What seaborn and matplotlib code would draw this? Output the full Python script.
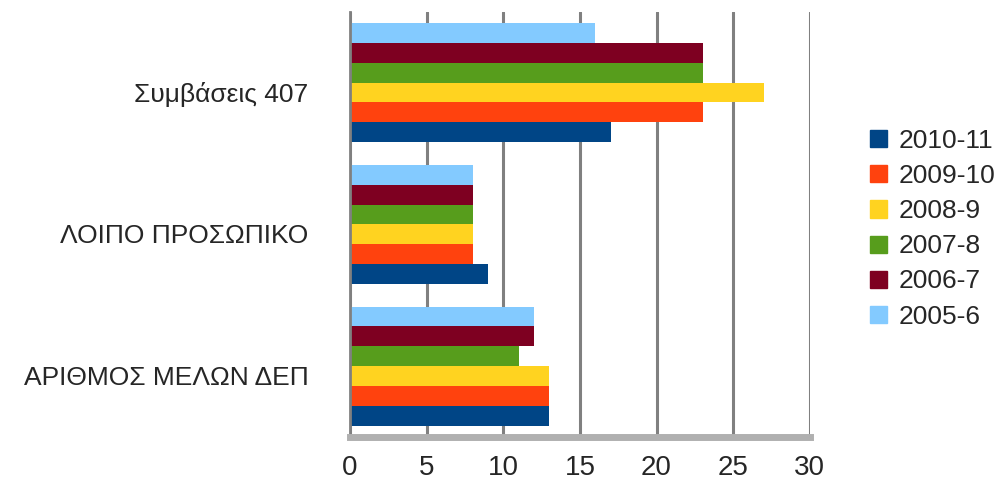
import matplotlib
matplotlib.use('Agg')
import matplotlib.pyplot as plt
import matplotlib.patches as mpatches
import matplotlib.transforms as mtransforms
import seaborn as sns
import pandas as pd

categories = ['Συμβάσεις 407', 'ΛΟΙΠΟ ΠΡΟΣΩΠΙΚΟ', 'ΑΡΙΘΜΟΣ ΜΕΛΩΝ ΔΕΠ']
years = ['2010-11', '2009-10', '2008-9', '2007-8', '2006-7', '2005-6']
values = {
    '2010-11': [17, 9, 13],
    '2009-10': [23, 8, 13],
    '2008-9': [27, 8, 13],
    '2007-8': [23, 8, 11],
    '2006-7': [23, 8, 12],
    '2005-6': [16, 8, 12],
}
colors = ['#004586', '#FF420E', '#FFD320', '#579D1C', '#7E0021', '#83CAFF']
x_ticks = [0, 5, 10, 15, 20, 25, 30]

# long format for seaborn
rows = []
for y in years:
    for c, v in zip(categories, values[y]):
        rows.append({'Category': c, 'Year': y, 'Value': v})
df = pd.DataFrame(rows)

sns.set_style('white')
plt.rcParams['font.family'] = ['Liberation Sans', 'DejaVu Sans']

fig = plt.figure(figsize=(10.04, 4.9), dpi=100)
ax = fig.add_axes([0.3486, 0.108, 0.458, 0.868])

palette = dict(zip(years, colors))
hue_order = years[::-1]  # 2005-6 on top of each group
sns.barplot(data=df, x='Value', y='Category', hue='Year', order=categories,
            hue_order=hue_order, palette=palette, orient='h', width=0.84,
            edgecolor='none', saturation=1, ax=ax)
ax.legend_.remove()

ax.set_xlim(0, 30)
ax.set_xticks(x_ticks)
ax.set_xticklabels([str(t) for t in x_ticks], fontsize=20)
ax.tick_params(axis='x', length=0, pad=13)
ax.tick_params(axis='y', length=0, pad=30, labelsize=19)
ax.set_xlabel('')
ax.set_ylabel('')

# nudge category labels down a little, like the 3D original
offset = mtransforms.ScaledTranslation(0, -9 / 100, fig.dpi_scale_trans)
for lbl in ax.get_yticklabels():
    lbl.set_transform(lbl.get_transform() + offset)

ax.grid(axis='x', color='#808080', linewidth=2.2)
ax.set_axisbelow(True)
for side in ['top', 'right']:
    ax.spines[side].set_visible(False)
ax.spines['left'].set_color('#808080')
ax.spines['left'].set_linewidth(2)
ax.spines['bottom'].set_color('#b0b0b0')
ax.spines['bottom'].set_linewidth(5)

handles = [mpatches.Patch(color=palette[y], label=y) for y in years]
fig.legend(handles=handles, loc='center left', bbox_to_anchor=(0.867, 0.533),
           frameon=False, fontsize=19, handlelength=0.62, handleheight=0.62,
           handletextpad=0.45, labelspacing=0.42, borderpad=0, borderaxespad=0)

fig.savefig('out.png', dpi=100)
